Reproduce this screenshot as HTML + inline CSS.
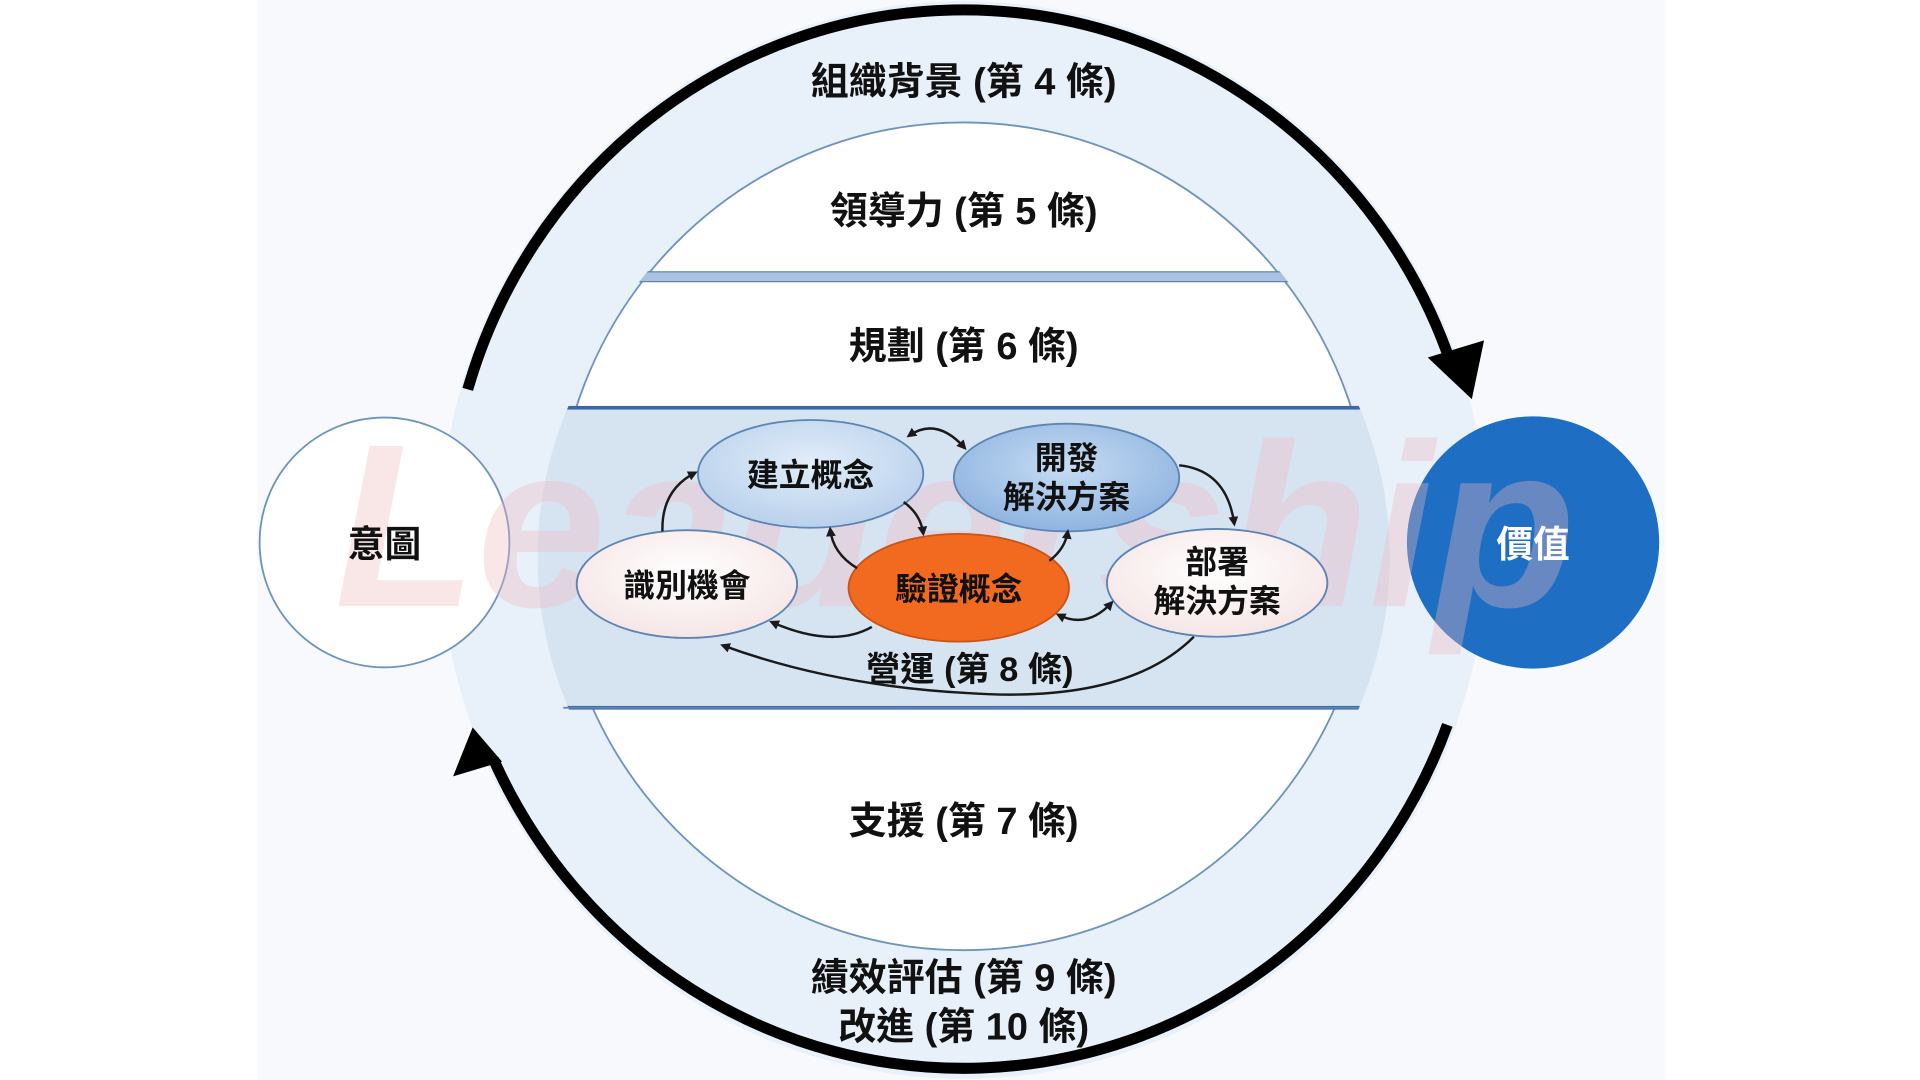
<!DOCTYPE html>
<html><head><meta charset="utf-8"><style>
html,body{margin:0;padding:0;width:1920px;height:1080px;overflow:hidden;background:#fff}
svg{display:block}
text{font-family:"Liberation Sans","Noto Sans CJK TC",sans-serif;font-weight:bold}
</style></head><body>
<svg width="1920" height="1080" viewBox="0 0 1568 882" xmlns="http://www.w3.org/2000/svg">
<defs>
<clipPath id="inner"><ellipse cx="787" cy="438" rx="336" ry="338"/></clipPath>
<clipPath id="wide"><ellipse cx="787" cy="455" rx="348" ry="330"/></clipPath>
<marker id="ah" markerWidth="8" markerHeight="8" refX="6" refY="4" orient="auto" markerUnits="userSpaceOnUse"><path d="M0,0 L8,4 L0,8 z" fill="#1a1a1a"/></marker>
<marker id="as" markerWidth="8" markerHeight="8" refX="2" refY="4" orient="auto" markerUnits="userSpaceOnUse"><path d="M8,0 L0,4 L8,8 z" fill="#1a1a1a"/></marker>
<radialGradient id="gb" cx="50%" cy="40%" r="60%"><stop offset="0" stop-color="#e2edf9"/><stop offset="1" stop-color="#b9d1ec"/></radialGradient>
<radialGradient id="gb2" cx="50%" cy="40%" r="60%"><stop offset="0" stop-color="#c6dcf3"/><stop offset="1" stop-color="#8fb4e0"/></radialGradient>
<radialGradient id="gw" cx="50%" cy="40%" r="60%"><stop offset="0" stop-color="#ffffff"/><stop offset="1" stop-color="#f6e6e6"/></radialGradient>
</defs>
<rect x="210" y="0" width="1150" height="882" fill="#f7f9fc"/>
<ellipse cx="787" cy="441" rx="428" ry="440" fill="#e8f0fa"/>
<ellipse cx="787" cy="438" rx="333" ry="338" fill="#fff" stroke="#6f93bf" stroke-width="1.5"/>
<g clip-path="url(#inner)">
<rect x="400" y="222" width="800" height="8" fill="#a9c3de" stroke="#5d84b3" stroke-width="1"/>
<line x1="400" y1="333" x2="1200" y2="333" stroke="#5d84b3" stroke-width="1.5"/>
</g>
<g clip-path="url(#wide)">
<rect x="430" y="333" width="720" height="245" fill="#d6e4f2" stroke="#3f68a0" stroke-width="3"/>
</g>
<line x1="460" y1="578" x2="1110" y2="578" stroke="#5d84b3" stroke-width="1.5"/>
<!-- big arrows -->
<path d="M382 318 A422 432 0 0 1 1186 300" fill="none" stroke="#000" stroke-width="9"/>
<polygon points="1166,292 1212,278 1202,326" fill="#000"/>
<path d="M1182 592 A422 432 0 0 1 403 620" fill="none" stroke="#000" stroke-width="9"/>
<polygon points="370,634 410,622 386,594" fill="#000"/>
<!-- side circles -->
<circle cx="314" cy="443" r="102" fill="#fff" stroke="#6f93bf" stroke-width="1.5"/>
<circle cx="1252" cy="443" r="103" fill="#1e6fc4"/>
<!-- watermark -->
<text x="780" y="495" font-size="190" font-style="italic" fill="#f0b8bd" opacity="0.35" text-anchor="middle">Leadership</text>
<text x="314" y="455" font-size="30" text-anchor="middle" fill="#111">意圖</text>
<text x="1252" y="455" font-size="30" text-anchor="middle" fill="#fff">價值</text>
<g font-size="31" text-anchor="middle" fill="#111">
<text x="787" y="77">組織背景 (第 4 條)</text>
<text x="787" y="183">領導力 (第 5 條)</text>
<text x="787" y="293">規劃 (第 6 條)</text>
<text x="787" y="681">支援 (第 7 條)</text>
<text x="787" y="809">績效評估 (第 9 條)</text>
<text x="787" y="849">改進 (第 10 條)</text>
<text x="792" y="556" font-size="28">營運 (第 8 條)</text>
</g>
<ellipse cx="662" cy="387" rx="92" ry="44" fill="url(#gb)" stroke="#5d84b3" stroke-width="1.5"/>
<ellipse cx="871" cy="390" rx="92" ry="44" fill="url(#gb2)" stroke="#5d84b3" stroke-width="1.5"/>
<ellipse cx="561" cy="477" rx="90" ry="44" fill="url(#gw)" stroke="#5d84b3" stroke-width="1.5"/>
<ellipse cx="783" cy="480" rx="90" ry="44" fill="#f26a1f" stroke="#c95415" stroke-width="1.5"/>
<ellipse cx="994" cy="476" rx="90" ry="44" fill="url(#gw)" stroke="#5d84b3" stroke-width="1.5"/>
<g font-size="26" text-anchor="middle" fill="#111">
<text x="662" y="397">建立概念</text>
<text x="871" y="383">開發</text>
<text x="871" y="415">解決方案</text>
<text x="561" y="487">識別機會</text>
<text x="783" y="490">驗證概念</text>
<text x="994" y="468">部署</text>
<text x="994" y="500">解決方案</text>
</g>
<g fill="none" stroke="#1a1a1a" stroke-width="2">
<path d="M541 434 Q540 400 568 386" marker-end="url(#ah)"/>
<path d="M742 356 Q765 340 788 366" marker-end="url(#ah)" marker-start="url(#as)"/>
<path d="M963 380 Q1002 384 1008 428" marker-end="url(#ah)"/>
<path d="M738 410 Q752 420 754 436" marker-end="url(#ah)"/>
<path d="M700 464 Q680 452 678 432" marker-end="url(#ah)"/>
<path d="M857 458 Q870 448 872 434" marker-end="url(#ah)"/>
<path d="M712 512 Q680 530 630 508" marker-end="url(#ah)"/>
<path d="M864 502 Q888 514 908 492" marker-end="url(#ah)" marker-start="url(#as)"/>
<path d="M975 520 Q920 575 790 566 Q680 560 590 527" marker-end="url(#ah)"/>
</g>
</svg>
</body></html>
